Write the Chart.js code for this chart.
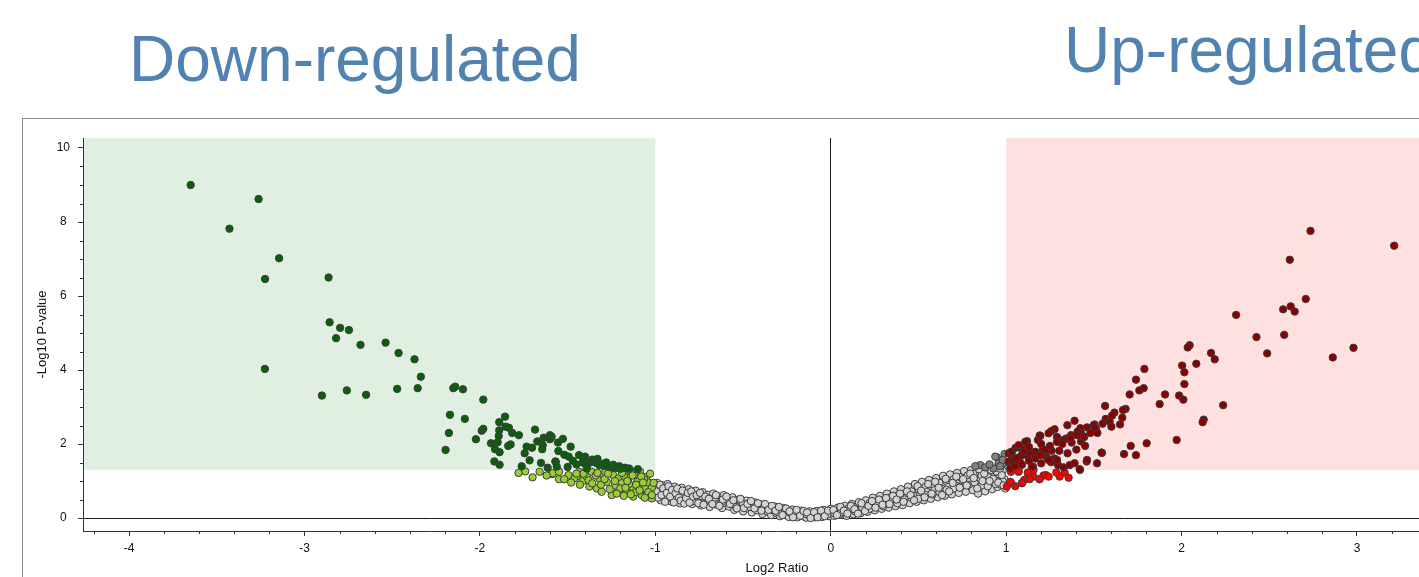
<!DOCTYPE html>
<html>
<head>
<meta charset="utf-8">
<script src="https://cdn.jsdelivr.net/npm/chart.js@4.4.1/dist/chart.umd.min.js"></script>
<style>
  html, body { margin:0; padding:0; width:1419px; height:577px; overflow:hidden; background:#fff; }
  .head { position:absolute; font-family:"Liberation Sans", Arial, sans-serif; font-size:64px; line-height:64px; color:#5282B0; white-space:nowrap; }
  #frame { position:absolute; left:22px; top:118px; width:1560px; height:600px; border:1px solid #8a8a8a; box-sizing:border-box; }
  #chart { position:absolute; left:0; top:0; }
</style>
</head>
<body>
<div class="head" style="left:129px; top:27px;">Down-regulated</div>
<div class="head" style="left:1064px; top:18px;">Up-regulated</div>
<div id="frame"></div>
<canvas id="chart" width="1560" height="620"></canvas>
<script>
// ---- axis settings ----
const xRange = [-4.263, 3.65];
const yRange = [-0.35, 10.27];
const xTickValues = [-4, -3, -2, -1, 0, 1, 2, 3];
const yTickValues = [0, 2, 4, 6, 8, 10];
const xMinorStep = 0.2;
const yMinorStep = 0.5;
const foldThreshold = 1;     // |log2 ratio|
const pThreshold = 1.3;      // -log10(0.05)
const xTitle = "Log2 Ratio";
const yTitle = "-Log10 P-value";

// ---- data: [log2 ratio, -log10 p] ----
const downSignificant = [
[-3.649,9.00],[-3.428,7.82],[-3.262,8.62],[-3.145,7.02],[-3.225,6.46],[-2.863,6.50],[-2.857,5.29],[-2.797,5.14],
[-2.747,5.08],[-2.820,4.86],[-2.681,4.68],[-2.538,4.74],[-2.464,4.46],[-2.373,4.29],[-2.337,3.82],[-3.226,4.03],
[-2.901,3.31],[-2.759,3.45],[-2.649,3.33],[-2.472,3.49],[-2.355,3.51],[-2.152,3.51],[-2.141,3.55],[-2.097,3.48],
[-1.981,3.20],[-2.171,2.79],[-2.086,2.68],[-2.177,2.30],[-2.196,1.84],[-1.857,2.74],[-1.890,2.59],[-1.990,2.36],
[-1.981,2.41],[-1.853,2.47],[-1.835,2.44],[-1.890,2.37],[-1.816,2.30],[-1.778,2.24],[-1.893,2.22],[-2.023,2.13],
[-1.899,2.05],[-1.937,2.02],[-1.825,1.99],[-1.839,1.95],[-1.914,1.86],[-1.888,1.78],[-1.918,1.53],[-1.888,1.44],
[-1.686,2.39],[-1.637,2.17],[-1.601,2.24],[-1.601,2.13],[-1.673,2.07],[-1.642,1.97],[-1.645,1.86],[-1.734,1.93],
[-1.703,1.90],[-1.745,1.75],[-1.717,1.56],[-1.555,2.04],[-1.527,2.14],[-1.483,1.93],[-1.553,1.81],[-1.519,1.71],
[-1.494,1.66],[-1.435,1.70],[-1.401,1.66],[-1.471,1.55],[-1.570,1.53],[-1.652,1.49],[-1.614,1.36],[-1.762,1.40],
[-1.414,1.50],[-1.591,2.20],[-1.411,1.61],[-1.568,1.52],[-1.405,1.49],[-1.382,1.48],[-1.357,1.52],[-1.334,1.48],
[-1.319,1.43],[-1.297,1.41],[-1.268,1.39],[-1.173,1.36],[-1.391,1.34],[-1.562,1.39],[-1.225,1.35],[-1.300,1.46],
[-1.360,1.58],[-1.240,1.44],[-1.205,1.40],[-1.280,1.50],[-1.250,1.38],[-1.200,1.33],[-1.150,1.34],[-1.330,1.60],
[-1.450,1.45],[-1.500,1.38],[-1.100,1.32]
];
const downNotSignificant = [
[-1.742,1.26],[-1.588,1.19],[-1.553,1.27],[-1.549,1.05],[-1.414,1.00],[-1.585,1.21],[-1.549,1.25],[-1.434,1.25],
[-1.448,1.12],[-1.391,1.12],[-1.363,1.25],[-1.334,0.80],[-1.319,1.07],[-1.297,1.16],[-1.277,0.98],[-1.258,1.30],
[-1.240,1.16],[-1.211,1.07],[-1.211,0.74],[-1.192,0.94],[-1.173,1.21],[-1.154,1.07],[-1.144,1.30],[-1.135,0.85],
[-1.126,0.58],[-1.103,0.98],[-1.087,1.25],[-1.078,0.62],[-1.059,0.80],[-1.049,1.12],[-1.030,0.71],[-1.021,0.53],
[-1.163,0.71],[-1.249,0.62],[-1.306,0.71],[-1.376,0.85],[-1.464,1.07],[-1.496,1.16],[-1.230,0.88],[-1.180,1.15],
[-1.120,1.18],[-1.095,0.88],[-1.040,0.96],[-1.065,1.05],[-1.150,0.92],[-1.285,1.24],[-1.340,1.15],[-1.410,1.20],
[-1.020,0.82],[-1.110,0.70],[-1.200,0.80],[-1.050,0.62],
[-1.780,1.22],[-1.700,1.10],[-1.660,1.25],[-1.620,1.15],[-1.520,1.05],[-1.480,0.96],[-1.450,1.20],[-1.430,0.90],
[-1.380,1.02],[-1.360,0.94],[-1.330,1.22],[-1.310,0.90],[-1.290,1.05],[-1.270,1.20],[-1.260,0.78],[-1.230,1.00],
[-1.220,0.66],[-1.190,1.22],[-1.170,0.82],[-1.160,1.00],[-1.140,0.64],[-1.130,1.15],[-1.110,0.90],[-1.090,0.75],
[-1.080,1.12],[-1.070,0.96],[-1.040,0.70],[-1.030,1.20],[-1.010,0.95],[-1.060,0.55],[-1.180,0.60],[-1.020,0.62]
];
const neutral = [
[-0.99,0.95],[-0.99,0.62],[-0.98,0.80],[-0.97,0.48],[-0.96,0.88],[-0.95,0.70],[-0.94,0.55],[-0.93,0.92],
[-0.92,0.78],[-0.91,0.45],[-0.90,0.64],[-0.89,0.85],[-0.88,0.52],[-0.87,0.74],[-0.86,0.40],[-0.85,0.82],
[-0.84,0.60],[-0.83,0.70],[-0.82,0.46],[-0.81,0.78],[-0.80,0.55],[-0.79,0.38],[-0.78,0.66],[-0.77,0.74],
[-0.76,0.48],[-0.75,0.59],[-0.74,0.34],[-0.73,0.70],[-0.72,0.52],[-0.71,0.42],[-0.70,0.63],[-0.69,0.30],
[-0.68,0.56],[-0.67,0.66],[-0.66,0.45],[-0.65,0.36],[-0.64,0.58],[-0.63,0.49],[-0.62,0.27],[-0.61,0.62],
[-0.60,0.40],[-0.59,0.52],[-0.58,0.31],[-0.57,0.46],[-0.56,0.56],[-0.55,0.22],[-0.54,0.38],[-0.53,0.49],
[-0.52,0.29],[-0.51,0.43],[-0.50,0.18],[-0.49,0.34],[-0.48,0.47],[-0.47,0.25],[-0.46,0.40],[-0.45,0.15],
[-0.44,0.33],[-0.43,0.42],[-0.42,0.21],[-0.41,0.29],[-0.40,0.37],[-0.39,0.11],[-0.38,0.24],[-0.37,0.33],
[-0.36,0.17],[-0.35,0.28],[-0.34,0.08],[-0.33,0.21],[-0.32,0.31],[-0.31,0.13],[-0.30,0.24],[-0.29,0.05],
[-0.28,0.17],[-0.27,0.27],[-0.26,0.10],[-0.25,0.20],[-0.24,0.03],[-0.23,0.14],[-0.22,0.23],[-0.21,0.07],
[-0.20,0.17],[-0.19,0.02],[-0.18,0.11],[-0.17,0.20],[-0.16,0.05],[-0.15,0.14],[-0.14,0.01],[-0.13,0.09],
[-0.12,0.18],[-0.11,0.04],[-0.10,0.12],[-0.09,0.02],[-0.08,0.19],[-0.07,0.08],[-0.06,0.14],[-0.05,0.03],
[-0.04,0.22],[-0.03,0.10],[-0.02,0.16],[-0.01,0.05],[0.00,0.25],[0.01,0.12],[0.02,0.06],[0.03,0.19],
[0.04,0.28],[0.05,0.09],[0.06,0.22],[0.07,0.14],[0.08,0.33],[0.09,0.06],[0.10,0.26],[0.11,0.17],
[0.12,0.38],[0.13,0.10],[0.14,0.30],[0.15,0.21],[0.16,0.43],[0.17,0.13],[0.18,0.35],[0.19,0.25],
[0.20,0.48],[0.21,0.17],[0.22,0.40],[0.23,0.30],[0.24,0.55],[0.25,0.21],[0.26,0.44],[0.27,0.34],
[0.28,0.60],[0.29,0.25],[0.30,0.50],[0.31,0.39],[0.32,0.66],[0.33,0.28],[0.34,0.56],[0.35,0.44],
[0.36,0.72],[0.37,0.32],[0.38,0.61],[0.39,0.48],[0.40,0.78],[0.41,0.35],[0.42,0.66],[0.43,0.54],
[0.44,0.85],[0.45,0.40],[0.46,0.72],[0.47,0.60],[0.48,0.92],[0.49,0.44],[0.50,0.78],[0.51,0.64],
[0.52,0.98],[0.53,0.48],[0.54,0.84],[0.55,0.70],[0.56,1.03],[0.57,0.52],[0.58,0.90],[0.59,0.75],
[0.60,1.08],[0.61,0.56],[0.62,0.95],[0.63,0.80],[0.64,1.14],[0.65,0.60],[0.66,1.00],[0.67,0.84],
[0.68,1.18],[0.69,0.64],[0.70,1.05],[0.71,0.88],[0.72,1.22],[0.73,0.68],[0.74,1.10],[0.75,0.93],
[0.76,1.27],[0.77,0.71],[0.78,1.15],[0.79,0.98],[0.80,1.30],[0.81,0.75],[0.82,1.20],[0.83,1.02],
[0.84,0.66],[0.85,1.25],[0.86,0.88],[0.87,1.08],[0.88,0.72],[0.89,1.28],[0.90,0.95],[0.91,1.15],
[0.92,0.78],[0.93,1.22],[0.94,1.02],[0.95,0.84],[0.96,1.18],[0.97,0.90],[0.98,1.28],[0.99,1.05],
[0.995,0.80],
[-0.97,0.72],[-0.93,0.58],[-0.90,0.50],[-0.85,0.68],[-0.82,0.62],[-0.78,0.46],[-0.74,0.60],[-0.70,0.48],
[-0.66,0.55],[-0.62,0.44],[-0.58,0.47],[-0.54,0.30],[-0.50,0.40],[-0.46,0.30],[-0.42,0.36],[-0.38,0.30],
[-0.34,0.25],[-0.30,0.16],[-0.26,0.22],[-0.22,0.12],[-0.18,0.15],[-0.14,0.11],[-0.10,0.07],[-0.06,0.10],
[-0.02,0.09],[0.02,0.13],[0.06,0.16],[0.10,0.20],[0.14,0.18],[0.18,0.28],[0.22,0.25],[0.26,0.38],
[0.30,0.32],[0.34,0.45],[0.38,0.40],[0.42,0.50],[0.46,0.55],[0.50,0.52],[0.54,0.62],[0.58,0.64],
[0.62,0.70],[0.66,0.76],[0.70,0.80],[0.74,0.84],[0.78,0.90],[0.82,0.96],[0.86,1.15],[0.90,1.10],
[0.94,0.92],[0.98,1.00],
[-0.995,0.72],[-0.985,0.55],[-0.975,0.90],[-0.965,0.62],[-0.955,0.80],[-0.945,0.44],[-0.935,0.68],[-0.925,0.86],
[-0.915,0.58],[-0.905,0.76],[-0.895,0.42],[-0.885,0.67],[-0.875,0.80],[-0.865,0.55],[-0.855,0.47],[-0.845,0.74],
[-0.835,0.39],[-0.825,0.54],[-0.815,0.68],[-0.805,0.42],[-0.795,0.72],[-0.785,0.58],[-0.765,0.62],[-0.755,0.40],
[-0.745,0.68],[-0.725,0.36],[-0.715,0.58],[-0.695,0.52],[-0.675,0.38],[-0.655,0.62],[-0.635,0.33],[-0.615,0.50],
[-0.595,0.58],[-0.575,0.38],[-0.555,0.48],[-0.535,0.26],[-0.515,0.52],[-0.495,0.27],[-0.475,0.38],[-0.455,0.46],
[-0.435,0.26],[-0.415,0.40],[-0.395,0.20],[-0.375,0.38],[-0.355,0.22],[-0.335,0.33],[-0.315,0.20],[-0.295,0.30],
[-0.275,0.08],[-0.255,0.26],[-0.235,0.18],[-0.215,0.02],[-0.195,0.22],[-0.175,0.06],[-0.155,0.19],[-0.135,0.15],
[-0.115,0.00],[-0.095,0.16],[-0.075,0.02],[-0.055,0.20],[-0.035,0.05],[-0.015,0.20],[0.015,0.22],[0.035,0.08],
[0.055,0.30],[0.075,0.20],[0.095,0.12],[0.115,0.33],[0.135,0.24],[0.155,0.12],[0.175,0.40],[0.195,0.19],
[0.215,0.33],[0.235,0.46],[0.255,0.28],[0.275,0.50],[0.295,0.36],[0.315,0.54],[0.335,0.38],[0.355,0.60],
[0.375,0.50],[0.395,0.66],[0.415,0.44],[0.435,0.72],[0.455,0.62],[0.475,0.48],[0.495,0.86],[0.515,0.74],
[0.535,0.56],[0.555,0.92],[0.575,0.66],[0.595,0.98],[0.615,0.82],[0.635,0.62],[0.655,1.06],[0.675,0.72],
[0.695,0.95],[0.715,1.12],[0.735,0.82],[0.755,1.05],[0.775,0.88],[0.795,1.20],[0.815,1.08],[0.835,0.80],
[0.845,1.32],[0.865,1.00],[0.875,1.20],[0.895,0.86],[0.915,1.30],[0.925,1.06],[0.945,1.26],[0.955,0.96],
[0.975,1.16],[0.985,0.88],[0.965,1.34],[0.905,1.00]
];
const nearSignificant = [
[0.947,1.64],[0.991,1.73],[0.957,1.48],[0.852,1.43],[0.824,1.40],[0.985,1.48],[0.928,1.34],[0.881,1.37],
[0.938,1.66],[0.981,1.57],[0.965,1.40],[0.905,1.45]
];
const upSignificant = [
[2.735,7.76],[3.212,7.36],[2.617,6.98],[2.708,5.92],[2.622,5.72],[2.579,5.64],[2.645,5.58],[2.311,5.49],
[2.427,4.89],[2.585,4.95],[2.488,4.45],[2.980,4.60],[2.862,4.34],[2.046,4.67],[2.035,4.61],[2.168,4.46],
[2.189,4.29],[2.084,4.17],[2.003,4.12],[2.016,3.94],[1.788,4.03],[1.740,3.74],[1.759,3.45],[1.784,3.51],
[1.704,3.34],[2.016,3.62],[1.906,3.34],[1.986,3.31],[2.010,3.20],[1.875,3.08],[2.237,3.05],[2.126,2.66],
[2.120,2.59],[1.972,2.11],[1.801,2.02],[1.710,1.95],[1.672,1.73],[1.740,1.70],[1.546,1.76],[1.564,3.03],
[1.681,2.95],[1.666,2.92],[1.662,2.71],[1.617,2.85],[1.604,2.77],[1.567,2.68],[1.590,2.61],[1.600,2.47],
[1.649,2.53],[1.544,1.77],[1.518,1.48],[1.459,1.53],[1.390,2.63],[1.512,2.41],
[1.504,2.53],[1.461,2.45],[1.423,2.43],[1.427,2.29],[1.407,2.33],[1.445,2.19],[1.427,2.07],[1.370,2.24],
[1.349,2.51],[1.373,2.04],[1.343,2.15],[1.290,2.19],[1.276,2.40],[1.257,2.35],[1.242,2.29],[1.195,2.22],
[1.181,2.11],[1.119,2.08],[1.115,1.99],[1.073,1.95],[1.054,1.90],[1.033,1.79],[1.090,1.86],[1.122,1.68],
[1.156,1.73],[1.179,1.70],[1.208,1.86],[1.223,1.77],[1.259,1.82],[1.303,1.82],[1.276,1.61],[1.256,1.51],
[1.233,1.63],[1.166,1.61],[1.130,1.55],[1.084,1.68],[1.080,1.50],[1.033,1.66],[1.014,1.52],[1.033,1.43],
[1.153,1.39],[1.296,1.43],[1.327,1.37],[1.362,1.43],[1.390,1.48],[1.191,2.23],[1.109,2.06],[1.014,1.75],
[1.461,1.57],[1.419,1.32],[1.023,1.34],[1.147,1.39],[1.071,1.97],[1.138,1.79],[1.166,1.79],[1.223,1.84],
[1.290,2.06],[1.327,2.11],[1.366,2.15],[1.404,2.24],[1.442,2.20],[1.499,2.51],[1.508,2.42],[1.290,1.57],
[1.242,1.57],[1.195,1.70],[1.042,1.57],[1.029,1.79],
[1.060,1.62],[1.100,1.78],[1.130,1.92],[1.200,2.00],[1.250,1.95],[1.320,2.00],[1.350,1.75],[1.400,1.85],
[1.450,1.95],[1.050,1.40],[1.090,1.44],[1.200,1.48],[1.480,2.30],[1.550,2.55],[1.520,2.30]
];
const upNotSignificant = [
[1.421,1.30],[1.305,1.12],[1.286,1.23],[1.333,1.23],[1.227,1.16],[1.213,1.15],[1.189,1.05],[1.156,1.12],
[1.124,1.21],[1.103,1.03],[1.090,0.95],[1.071,1.25],[1.052,0.86],[1.027,1.25],[1.027,0.95],[1.004,0.85],
[1.071,1.28],[1.124,1.23],[1.156,1.30],[1.242,1.12],[1.090,0.94],[1.134,1.05],[1.191,1.05],[1.023,0.98],
[1.356,1.09]
];

const toXY = arr => arr.map(p => ({x: p[0], y: p[1]}));
const FONT = "'Liberation Sans', Arial, sans-serif";
const edge = '#3c3c3c';

function ds(label, arr, fill, order) {
  return { label, data: toXY(arr), backgroundColor: fill, borderColor: edge, borderWidth: 1,
           pointRadius: 3.7, pointHoverRadius: 3.7, order };
}

const regionPlugin = {
  id: 'regions',
  beforeDraw(chart) {
    const {ctx, chartArea: a, scales: {x, y}} = chart;
    const yT = y.getPixelForValue(pThreshold);
    ctx.save();
    ctx.fillStyle = '#E0EFE1';
    const xl = x.getPixelForValue(-foldThreshold);
    ctx.fillRect(a.left, a.top, xl - a.left, yT - a.top);
    ctx.fillStyle = '#FEE0E0';
    const xr = x.getPixelForValue(foldThreshold);
    ctx.fillRect(xr, a.top, a.right - xr, yT - a.top);
    ctx.restore();
  },
  afterDraw(chart) {
    const {ctx, chartArea: a, scales: {x, y}} = chart;
    ctx.save();
    ctx.strokeStyle = '#333';
    ctx.lineWidth = 1;
    ctx.beginPath();
    for (let k = Math.ceil(x.min / xMinorStep); k * xMinorStep <= x.max; k++) {
      const v = k * xMinorStep;
      if (Math.abs(v - Math.round(v)) < 1e-6) continue;
      const px = Math.round(x.getPixelForValue(v)) + 0.5;
      ctx.moveTo(px, a.bottom); ctx.lineTo(px, a.bottom + 3);
    }
    for (let k = Math.ceil(y.min / yMinorStep); k * yMinorStep <= y.max; k++) {
      const v = k * yMinorStep;
      if (Math.abs(v / 2 - Math.round(v / 2)) < 1e-6) continue;
      const py = Math.round(y.getPixelForValue(v)) + 0.5;
      ctx.moveTo(a.left - 3, py); ctx.lineTo(a.left, py);
    }
    ctx.stroke();
    ctx.restore();
  }
};

const zeroLine = c => (c.tick && Math.abs(c.tick.value) < 1e-9) ? '#1a1a1a' : 'rgba(0,0,0,0)';

new Chart(document.getElementById('chart'), {
  type: 'scatter',
  data: { datasets: [
    ds('Neutral', neutral, '#D3D3D3', 6),
    ds('Near significant', nearSignificant, '#808080', 5),
    ds('Down (n.s.)', downNotSignificant, '#9ACD32', 4),
    ds('Up (n.s.)', upNotSignificant, '#FF0000', 3),
    ds('Down-regulated', downSignificant, '#0A600A', 2),
    ds('Up-regulated', upSignificant, '#8B0000', 1)
  ]},
  options: {
    responsive: false, animation: false, devicePixelRatio: 1,
    layout: { padding: { left: 22, top: 138, right: 89, bottom: 29 } },
    plugins: { legend: { display: false }, tooltip: { enabled: false } },
    scales: {
      x: {
        type: 'linear', min: xRange[0], max: xRange[1],
        afterBuildTicks(s) { s.ticks = xTickValues.map(v => ({value: v})); },
        afterFit(s) { s.height = 60; },
        border: { display: true, color: '#333', width: 1 },
        grid: { drawOnChartArea: true, color: zeroLine, tickColor: '#333', tickLength: 5, lineWidth: 1 },
        ticks: { font: { family: FONT, size: 12 }, color: '#111', padding: 5, maxRotation: 0, autoSkip: false,
                 callback: v => String(v) },
        title: { display: true, text: xTitle, font: { family: FONT, size: 13 }, color: '#111', padding: { top: 0, bottom: 15 } }
      },
      y: {
        type: 'linear', min: yRange[0], max: yRange[1],
        afterBuildTicks(s) { s.ticks = yTickValues.map(v => ({value: v})); },
        afterFit(s) { s.width = 61; },
        border: { display: true, color: '#333', width: 1 },
        grid: { drawOnChartArea: true, color: zeroLine, tickColor: '#333', tickLength: 5, lineWidth: 1 },
        ticks: { font: { family: FONT, size: 12 }, color: '#111', padding: 8, crossAlign: 'center', autoSkip: false,
                 callback: v => String(v) },
        title: { display: true, text: yTitle, font: { family: FONT, size: 13 }, color: '#111', padding: { top: 13, bottom: 0 } }
      }
    }
  },
  plugins: [regionPlugin]
});
</script>
</body>
</html>
